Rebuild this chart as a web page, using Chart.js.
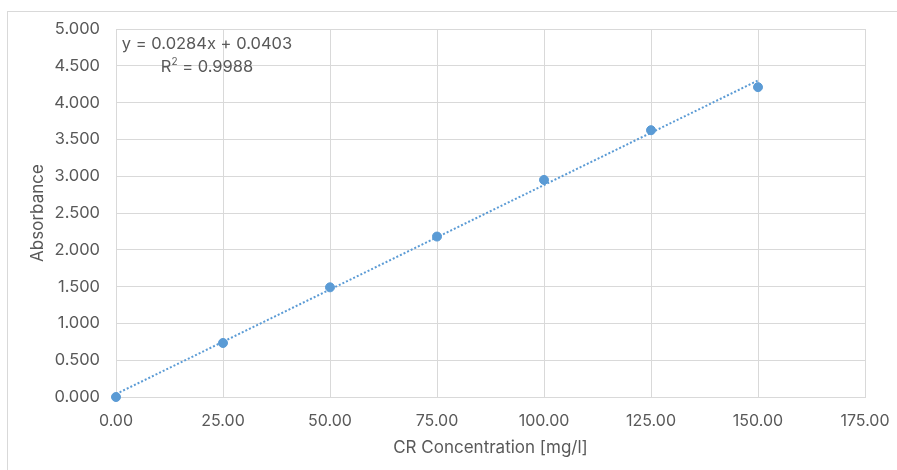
<!DOCTYPE html>
<html>
<head>
<meta charset="utf-8">
<script src="https://cdn.jsdelivr.net/npm/chart.js@4.4.1/dist/chart.umd.min.js"></script>
<style>
  html, body { margin: 0; padding: 0; background: #ffffff; }
  #wrap { width: 897px; height: 470px; position: relative; }
</style>
</head>
<body>
<div id="wrap"><canvas id="chart"></canvas></div>
<script>
// Calibration data: CR concentration (mg/l) vs measured absorbance
const concentration = [0, 25, 50, 75, 100, 125, 150];
const absorbance = [0.000, 0.734, 1.490, 2.180, 2.950, 3.625, 4.210];

// Linear trendline parameters
const slope = 0.0284;
const intercept = 0.0403;
const rSquared = 0.9988;

// Axis settings
const xTicks = [0, 25, 50, 75, 100, 125, 150, 175];
const yTicks = [0, 0.5, 1, 1.5, 2, 2.5, 3, 3.5, 4, 4.5, 5];

const BLUE = '#5B9BD5';
const GRID = '#D9D9D9';
const TEXT = '#595959';
const FONT = 'Inter';

const xMin = concentration[0];
const xMax = concentration[concentration.length - 1];
const trendPoints = [xMin, xMax].map(x => ({ x: x, y: slope * x + intercept }));

const framePlugin = {
  id: 'frame',
  beforeDraw(chart) {
    const ctx = chart.ctx;
    ctx.save();
    ctx.strokeStyle = GRID;
    ctx.lineWidth = 1;
    ctx.strokeRect(7.5, 11.5, 900, 480);
    ctx.restore();
  }
};

const equationPlugin = {
  id: 'equation',
  afterDatasetsDraw(chart) {
    const ctx = chart.ctx;
    const line1 = 'y = ' + slope.toFixed(4) + 'x + ' + intercept.toFixed(4);
    const r2 = rSquared.toFixed(4);
    const size = 16.5;
    ctx.save();
    ctx.fillStyle = TEXT;
    ctx.font = size + 'px ' + FONT;
    ctx.textBaseline = 'middle';
    ctx.textAlign = 'center';
    const cx = 207;
    ctx.fillText(line1, cx, 44);
    // R² line with a raised 2
    const partA = 'R';
    const partB = ' = ' + r2;
    const wA = ctx.measureText(partA).width;
    const wB = ctx.measureText(partB).width;
    ctx.font = '10px ' + FONT;
    const wS = ctx.measureText('2').width;
    const total = wA + wS + wB;
    const x0 = cx - total / 2;
    ctx.textAlign = 'left';
    ctx.font = size + 'px ' + FONT;
    ctx.fillText(partA, x0, 67);
    ctx.font = '10px ' + FONT;
    ctx.fillText('2', x0 + wA, 62);
    ctx.font = size + 'px ' + FONT;
    ctx.fillText(partB, x0 + wA + wS, 67);
    ctx.restore();
  }
};

new Chart(document.getElementById('chart'), {
  type: 'scatter',
  data: {
    datasets: [
      {
        label: 'Trendline',
        data: trendPoints,
        showLine: true,
        borderColor: BLUE,
        borderWidth: 2,
        borderDash: [2, 2],
        pointRadius: 0,
        fill: false,
        clip: false,
        order: 0
      },
      {
        label: 'Absorbance',
        data: concentration.map((c, i) => ({ x: c, y: absorbance[i] })),
        backgroundColor: BLUE,
        borderColor: BLUE,
        pointRadius: 4.5,
        pointHoverRadius: 4.5,
        showLine: false,
        clip: false,
        order: 1
      }
    ]
  },
  options: {
    responsive: true,
    maintainAspectRatio: false,
    animation: false,
    layout: { padding: { left: 7, top: 29, right: 32, bottom: 0 } },
    plugins: {
      legend: { display: false },
      tooltip: { enabled: false }
    },
    scales: {
      x: {
        type: 'linear',
        min: xTicks[0],
        max: xTicks[xTicks.length - 1],
        afterBuildTicks(scale) { scale.ticks = xTicks.map(v => ({ value: v })); },
        afterFit(scale) {
          scale.height = 73;
          scale.paddingLeft = 0;
          scale.paddingRight = 0;
        },
        grid: { color: GRID, drawTicks: false },
        border: { color: GRID },
        ticks: {
          color: TEXT,
          font: { family: FONT, size: 16 },
          padding: 15,
          maxRotation: 0,
          callback: v => v.toFixed(2)
        },
        title: {
          display: true,
          text: 'CR Concentration [mg/l]',
          color: TEXT,
          font: { family: FONT, size: 17 },
          padding: { top: 0, bottom: 12 }
        }
      },
      y: {
        type: 'linear',
        min: yTicks[0],
        max: yTicks[yTicks.length - 1],
        afterBuildTicks(scale) { scale.ticks = yTicks.map(v => ({ value: v })); },
        afterFit(scale) { scale.width = 109; },
        grid: { color: GRID, drawTicks: false },
        border: { color: GRID },
        ticks: {
          color: TEXT,
          font: { family: FONT, size: 16.5 },
          padding: 16,
          callback: v => v.toFixed(3)
        },
        title: {
          display: true,
          text: 'Absorbance',
          color: TEXT,
          font: { family: FONT, size: 17 },
          padding: { top: 21, bottom: 0 }
        }
      }
    }
  },
  plugins: [framePlugin, equationPlugin]
});
</script>
</body>
</html>
